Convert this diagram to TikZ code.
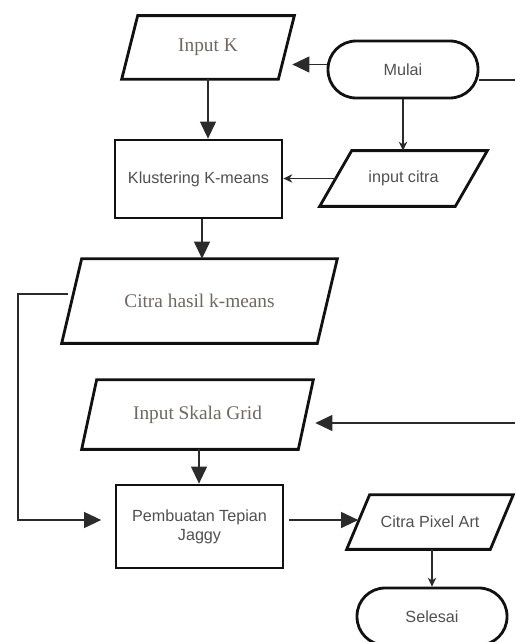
\documentclass[tikz,border=0pt]{standalone}
\usepackage{fontspec}
\setmainfont{Liberation Serif}
\setsansfont{Liberation Sans}
\usepackage{xcolor}
\usepackage{tikz}
\usetikzlibrary{arrows.meta,positioning}
\definecolor{edgec}{HTML}{111111}
\definecolor{linec}{HTML}{2B2B2B}
\definecolor{sanst}{HTML}{505050}
\definecolor{serift}{HTML}{6F6860}
\tikzset{
  big/.style={-{Triangle[length=0.34cm,width=0.32cm]},line width=0.6pt,linec},
  small/.style={-{Stealth[length=0.18cm,width=0.17cm]},line width=0.6pt,linec},
  io/.style={rectangle,inner sep=0pt,align=center},
  iobord/.style={draw=edgec,line width=1.6pt,line join=miter},
  procbox/.style={rectangle,draw=edgec,line width=1.6pt,inner sep=0pt,align=center,
    font=\sffamily\fontsize{9.2}{10.8}\selectfont,text=sanst},
  term/.style={rectangle,rounded corners=0.56cm,draw=edgec,line width=1.6pt,
    minimum width=3cm,minimum height=1.14cm,font=\sffamily\fontsize{9.2}{10.8}\selectfont,text=sanst},
  sertxt/.style={font=\fontsize{11}{13}\selectfont,text=serift},
  santxt/.style={font=\sffamily\fontsize{9.2}{10.8}\selectfont,text=sanst}
}
\begin{document}
\begin{tikzpicture}[x=0.02cm,y=-0.02cm]
\useasboundingbox (0,0) rectangle (515,642);
\clip (0,0) rectangle (515,642);
% input / output (lebar di tengah tinggi)
\node[io,sertxt,minimum width=3.12cm,minimum height=1.26cm] (inK) at (208,47.5) {Input K};
\node[io,santxt,minimum width=2.70cm,minimum height=1.10cm] (citra) at (403.5,178.5) {input citra};
\node[io,sertxt,minimum width=5.10cm,minimum height=1.68cm] (hasil) at (199.5,301) {Citra hasil k-means};
\node[io,sertxt,minimum width=4.32cm,minimum height=1.38cm] (skala) at (197.5,414.5) {Input Skala Grid};
\node[io,santxt,minimum width=2.86cm,minimum height=1.08cm] (pixel) at (430,522) {Citra Pixel Art};
% jajaran genjang
\foreach \n/\s in {inK/8,citra/16,hasil/10,skala/7.5,pixel/11.5}
  \draw[iobord] ([xshift=\s*0.02cm]\n.north west) -- ([xshift=\s*0.02cm]\n.north east)
    -- ([xshift=-\s*0.02cm]\n.south east) -- ([xshift=-\s*0.02cm]\n.south west) -- cycle;
% proses
\node[procbox,minimum width=3.34cm,minimum height=1.56cm] (klust) at (198.5,179) {Klustering K-means};
\node[procbox,minimum width=3.34cm,minimum height=1.66cm] (jaggy) at (199.5,526.5) {Pembuatan Tepian\\Jaggy};
% mulai / selesai
\node[term] (mulai) at (403,69.5) {Mulai};
\node[term] (selesai) at (432,616.5) {Selesai};
% ujung garis keluar gambar
\coordinate (rout) at (515,80);
\coordinate (rin) at (515,423);
\coordinate (lft) at (18,294);
% panah
\draw[big,shorten >=0.12cm] ([yshift=0.1cm]mulai.west) -- ([yshift=0.1cm]mulai.west -| inK.east);
\draw[linec,line width=0.6pt] (mulai.east |- rout) -- (rout);
\draw[big] (inK.south) -- (inK.south |- klust.north);
\draw[small] (mulai.south) -- (mulai.south |- citra.north);
\draw[small] (citra.west) -- (citra.west -| klust.east);
\draw[big] ([xshift=0.07cm]klust.south) -- ([xshift=0.07cm]klust.south |- hasil.north);
\draw[big,shorten >=0.27cm] ([xshift=-0.08cm]hasil.west |- lft) -- (lft) |- ([yshift=0.13cm]jaggy.west);
\draw[big,shorten >=0.19cm] (rin) -- (rin -| skala.east);
\draw[big] ([xshift=0.03cm]skala.south) -- ([xshift=0.03cm]skala.south |- jaggy.north);
\draw[big,shorten <=0.1cm] ([yshift=0.13cm]jaggy.east) -- ([yshift=0.13cm]jaggy.east -| pixel.west);
\draw[small] ([xshift=0.04cm]pixel.south) -- ([xshift=0.04cm]pixel.south |- selesai.north);
\end{tikzpicture}
\end{document}
